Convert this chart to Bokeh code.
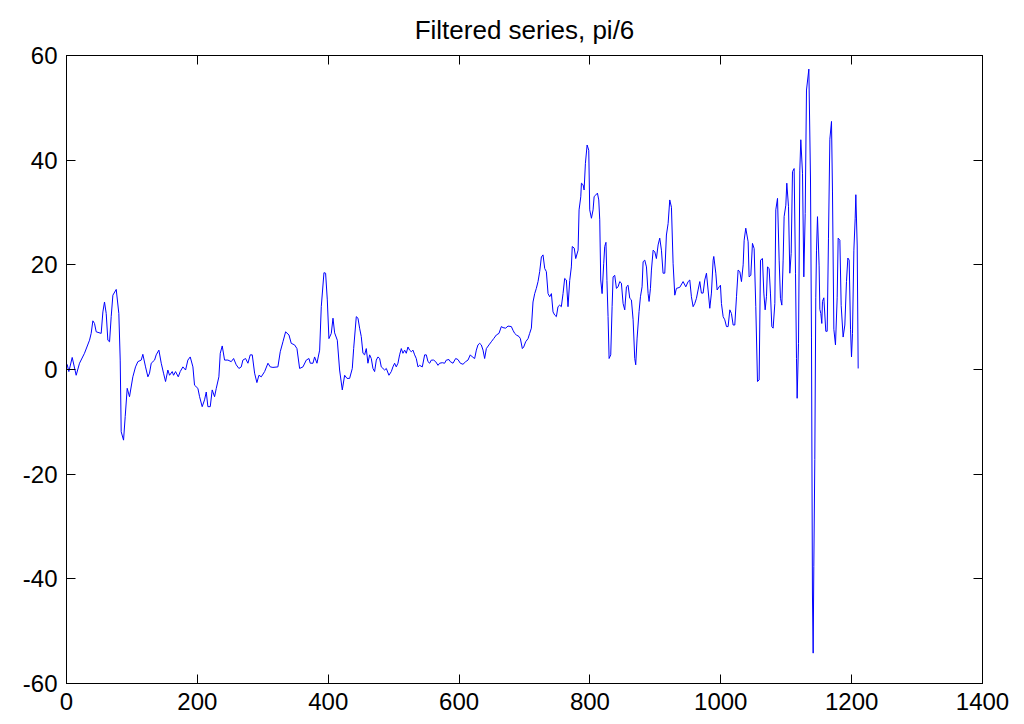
from bokeh.plotting import figure
from bokeh.models import LinearAxis, FixedTicker, Range1d
from bokeh.embed import file_html
from bokeh.resources import INLINE

title_text = "Filtered series, pi/6"
x_ticks = [0, 200, 400, 600, 800, 1000, 1200, 1400]
y_ticks = [-60, -40, -20, 0, 20, 40, 60]

t = [1, 3.6, 8.7, 14.8, 19.9, 27.5, 35.2, 37.7, 40.3, 42.8, 45.4, 53.0, 55.6, 58.1, 60.7, 63.2,
     65.8, 68.3, 70.9, 76.0, 80.0, 82.1, 83.6, 87.2, 89.7, 92.8, 96.3, 101.4, 105.5, 109.1, 114.2,
     116.7, 120.8, 124.4, 126.9, 129.5, 134.6, 137.1, 141.2, 144.8, 148.3, 151.4, 154.9, 157.5,
     161.6, 163.6, 166.7, 170.8, 173.8, 177.9, 182.0, 185.5, 189.1, 193.2, 195.7, 200.8, 203.4,
     207.4, 211.0, 213.6, 216.1, 219.7, 222.7, 226.3, 228.9, 232.9, 235.0, 238.0, 241.6, 246.7,
     251.8, 255.4, 259.4, 263.5, 267.1, 269.6, 273.7, 277.3, 280.8, 283.9, 287.5, 291.0, 294.1,
     297.7, 302.8, 307.9, 311.4, 315.5, 323.1, 326.7, 330.8, 334.9, 340.0, 343.5, 348.6, 352.2,
     356.3, 361.4, 366.5, 370.6, 372.6, 376.7, 379.2, 382.8, 386.9, 389.4, 393.5, 396.0, 398.6,
     401.1, 404.7, 407.3, 409.8, 413.9, 417.4, 421.5, 425.1, 428.7, 432.7, 436.8, 438.9, 442.9,
     445.5, 448.0, 450.5, 453.1, 455.6, 458.2, 460.7, 463.3, 465.8, 468.4, 470.9, 473.5, 476.0,
     478.6, 481.1, 483.7, 486.2, 488.8, 492.8, 496.4, 498.9, 501.5, 504.0, 506.6, 509.1, 511.7,
     514.2, 516.8, 519.3, 521.9, 524.4, 527.0, 529.5, 532.1, 534.6, 537.2, 539.7, 543.8, 547.4,
     549.9, 552.5, 555.0, 557.6, 561.1, 564.2, 567.8, 570.3, 574.4, 577.9, 580.5, 584.6, 586.6,
     590.7, 594.8, 598.3, 601.9, 606.0, 610.1, 613.6, 617.2, 620.3, 623.8, 626.4, 628.9, 631.5,
     634.0, 636.6, 639.1, 641.7, 645.7, 649.3, 652.9, 657.0, 661.0, 664.6, 667.2, 671.2, 674.8,
     679.9, 682.4, 685.0, 687.5, 691.6, 693.7, 696.7, 698.8, 701.8, 705.4, 707.9, 710.5, 713.0,
     715.6, 718.1, 720.7, 723.2, 725.8, 728.3, 730.9, 733.4, 736.0, 738.5, 741.1, 743.6, 746.2,
     748.7, 751.2, 753.8, 756.3, 758.9, 761.4, 764.0, 766.5, 769.1, 771.6, 773.0, 776.0, 778.3,
     781.9, 783.4, 786.0, 787.0, 789.5, 791.1, 793.1, 795.7, 798.2, 799.7, 802.3, 804.8, 806.4,
     808.4, 811.5, 813.5, 815.0, 816.5, 818.6, 821.1, 822.6, 824.5, 826.0, 827.7, 829.3, 831.8,
     833.9, 835.4, 837.9, 840.5, 843.0, 845.6, 848.1, 850.7, 853.2, 855.8, 858.3, 860.9, 863.4,
     866.0, 868.5, 870.0, 872.1, 875.1, 877.2, 879.7, 881.3, 883.8, 886.4, 888.9, 890.4, 892.5,
     894.0, 896.6, 899.1, 901.6, 904.2, 906.7, 909.3, 911.8, 914.4, 916.9, 919.5, 922.0, 924.6,
     927.1, 929.7, 932.2, 937.3, 942.4, 946.5, 950.1, 952.6, 955.1, 957.7, 960.2, 962.8, 965.3,
     967.9, 970.4, 973.0, 975.5, 978.1, 980.6, 983.2, 985.7, 988.3, 989.3, 992.4, 994.4, 997.5,
     999.5, 1001.0, 1003.6, 1006.1, 1008.7, 1011.2, 1013.8, 1016.3, 1018.9, 1021.4, 1024.0,
     1026.5, 1029.1, 1031.6, 1034.2, 1035.7, 1038.2, 1041.8, 1043.3, 1045.9, 1048.4, 1051.0,
     1053.5, 1056.1, 1058.6, 1060.7, 1063.7, 1065.8, 1067.8, 1069.8, 1071.4, 1073.9, 1075.9,
     1078.0, 1080.0, 1082.6, 1084.1, 1086.7, 1089.2, 1091.2, 1093.3, 1095.3, 1096.8, 1099.4,
     1100.9, 1103.5, 1105.5, 1107.6, 1109.6, 1112.1, 1114.2, 1115.7, 1116.7, 1118.8, 1120.8,
     1122.3, 1124.9, 1126.9, 1129.0, 1131.0, 1134.6, 1137.1, 1138.6, 1140.1, 1141.2, 1142.2,
     1143.7, 1145.2, 1146.3, 1147.8, 1150.3, 1151.4, 1152.9, 1154.4, 1155.4, 1157.5, 1160.5,
     1162.6, 1164.6, 1166.7, 1169.2, 1170.7, 1172.8, 1175.3, 1177.9, 1179.4, 1182.0, 1184.0,
     1187.0, 1189.6, 1192.1, 1194.2, 1196.2, 1198.3, 1199.8, 1201.3, 1203.4, 1205.4, 1206.4,
     1208.5, 1210.0]

filtered = [1.0, -0.4, 2.3, -1.1, 1.2, 3.1, 5.6, 6.9, 9.3, 8.8, 7.2, 6.9, 11.0, 12.9, 10.7, 5.6,
            5.3, 10.1, 14.2, 15.3, 10.7, 1.8, -11.9, -13.5, -9.0, -3.6, -5.2, -1.4, 0.5, 1.5, 1.8,
            2.9, 0.5, -1.4, -0.7, 1.2, 1.8, 2.8, 3.7, 1.2, -0.7, -2.3, -0.1, -1.1,
            -0.4, -1.1, -0.4, -1.4, -0.4, 0.5, -0.1, 1.8, 2.4, 0.5, -3.0, -3.6, -5.2,
            -7.1, -5.8, -4.3, -7.1, -7.1, -3.9, -5.2, -3.6, -1.4, 3.1, 4.5, 1.8, 1.8,
            1.5, 2.1, 0.9, 0.2, 0.5, 1.8, 2.1, 1.2, 2.8, 2.8, -0.7, -2.5, -1.1,
            -1.4, -0.4, 1.2, 0.5, 0.4, 0.5, 3.4, 5.3, 7.2, 6.6, 5.0, 4.7, 4.0,
            0.2, 0.5, 1.8, 2.1, 1.2, 1.2, 2.4, 1.2, 3.7, 12.0, 18.5, 18.4, 13.3,
            5.9, 6.9, 9.8, 7.0, 5.6, -0.1, -3.9, -1.1, -1.7, -1.7, 0.2, 4.0, 10.1,
            9.8, 7.9, 6.3, 3.1, 2.8, 4.0, 1.2, 2.8, 2.1, 0.2, -0.4, 1.8, 2.4,
            2.1, 0.5, 0.2, -0.1, 0.2, -1.1, -0.4, 0.5, 1.2, 0.5, 1.2, 2.8, 4.0,
            3.1, 3.7, 3.1, 4.3, 3.7, 3.4, 3.7, 2.8, 2.1, 0.5, 0.8, 0.5, 2.8,
            2.8, 1.5, 1.2, 1.8, 1.8, 1.5, 0.8, 1.2, 1.3, 1.2, 1.8, 1.9, 1.5,
            1.2, 2.1, 1.9, 1.2, 1.0, 1.5, 1.8, 2.8, 2.4, 2.1, 3.7, 4.7, 5.0,
            4.7, 3.7, 2.1, 4.0, 4.7, 5.3, 5.9, 6.6, 6.9, 8.2, 8.0, 7.9, 8.3,
            8.2, 7.5, 6.9, 6.6, 6.3, 5.9, 4.0, 4.3, 5.3, 5.9, 6.9, 7.9, 12.9,
            14.5, 15.5, 16.8, 18.7, 21.5, 21.9, 19.3, 18.7, 14.5, 13.9, 14.5, 11.0, 10.4,
            10.1, 12.0, 12.3, 12.0, 14.5, 17.4, 17.1, 12.0, 17.0, 19.6, 23.5, 23.2, 21.2,
            22.8, 30.5, 33.0, 35.6, 35.3, 34.3, 39.4, 42.9, 41.9, 30.5, 28.9, 30.5, 33.0,
            33.3, 33.7, 32.4, 28.6, 17.1, 14.5, 20.3, 23.5, 24.3, 17.0, 10.1, 2.1, 2.8,
            12.0, 17.7, 18.0, 15.5, 15.8, 16.8, 16.5, 12.6, 11.4, 15.8, 16.1, 13.6, 13.3,
            9.5, 2.1, 0.9, 6.0, 11.1, 13.9, 15.8, 20.6, 20.9, 19.6, 14.5, 13.0, 15.5,
            19.0, 22.8, 22.5, 21.2, 23.8, 25.1, 22.8, 18.4, 18.4, 25.7, 27.9, 32.4, 31.0,
            20.3, 14.2, 15.5, 15.7, 16.8, 15.8, 16.8, 17.1, 13.9, 12.0, 12.6, 13.6, 15.2,
            16.8, 14.6, 14.6, 17.1, 18.4, 15.2, 11.7, 14.6, 20.9, 21.6, 18.4, 15.2, 15.8,
            16.1, 12.6, 10.1, 9.5, 8.2, 8.2, 11.4, 10.7, 8.5, 8.5, 13.9,
            19.0, 18.7, 16.8, 20.0, 24.7, 27.0, 24.4, 17.7, 18.0, 24.1, 23.1,
            12.0, -2.3, -2.0, 20.9, 21.2, 14.6, 11.4, 13.9, 19.6, 19.3, 14.6,
            8.2, 7.9, 12.6, 30.5, 32.7, 20.9, 13.6, 12.3, 20.9, 29.2, 31.4,
            35.6, 31.1, 18.4, 22.2, 37.8, 38.4, 18.4, 2.1, -5.5, 5.0, 38.1,
            43.9, 37.5, 17.7, 29.8, 53.4, 57.4, 36.4, 6.2, -42.9, -54.2, -37.6,
            -17.2, 13.7, 22.8, 29.2, 19.8, 11.5, 10.7, 8.8, 13.0, 13.7, 7.3,
            7.3, 25.1, 44.0, 47.4, 34.1, 7.7, 4.7, 13.7, 25.1, 24.7, 12.2,
            6.2, 8.5, 16.8, 21.3, 20.9, 7.7, 2.4, 6.9, 22.8, 28.9, 33.4,
            23.6, 0.2]

FONT = "Liberation Sans"

p = figure(width=1014, height=720, output_backend="svg", toolbar_location=None,
           x_range=Range1d(0, 1400), y_range=Range1d(-60, 60),
           min_border_left=66, min_border_right=32, min_border_top=55, min_border_bottom=37,
           title=title_text, background_fill_color="white", border_fill_color="white")

p.line(t, filtered, line_color="#0000FF", line_width=1)

p.xgrid.visible = False
p.ygrid.visible = False
p.outline_line_color = "black"
p.outline_line_width = 1

p.title.text_font = FONT
p.title.text_font_size = "26px"
p.title.text_font_style = "normal"
p.title.align = "center"
p.title.text_color = "black"
p.title.standoff = 22


def style_axis(ax, show_labels):
    ax.axis_line_color = "black"
    ax.major_tick_line_color = "black"
    ax.major_tick_in = 9
    ax.major_tick_out = 0
    ax.minor_tick_line_color = None
    ax.major_label_text_font = FONT
    if show_labels:
        ax.major_label_text_color = "black"
        ax.major_label_text_font_size = "24px"
    else:
        ax.major_label_text_color = None
        ax.major_label_text_font_size = "1px"
        ax.major_label_standoff = 0


xa = p.xaxis[0]
xa.ticker = FixedTicker(ticks=x_ticks)
style_axis(xa, True)
xa.major_label_standoff = 9

ya = p.yaxis[0]
ya.ticker = FixedTicker(ticks=y_ticks)
style_axis(ya, True)
ya.major_label_standoff = 9
ya.major_label_overrides = {v: str(v) for v in y_ticks}

top_axis = LinearAxis(ticker=FixedTicker(ticks=x_ticks))
style_axis(top_axis, False)
p.add_layout(top_axis, "above")

right_axis = LinearAxis(ticker=FixedTicker(ticks=y_ticks))
style_axis(right_axis, False)
p.add_layout(right_axis, "right")

open("out.html", "w").write(file_html(p, INLINE))
